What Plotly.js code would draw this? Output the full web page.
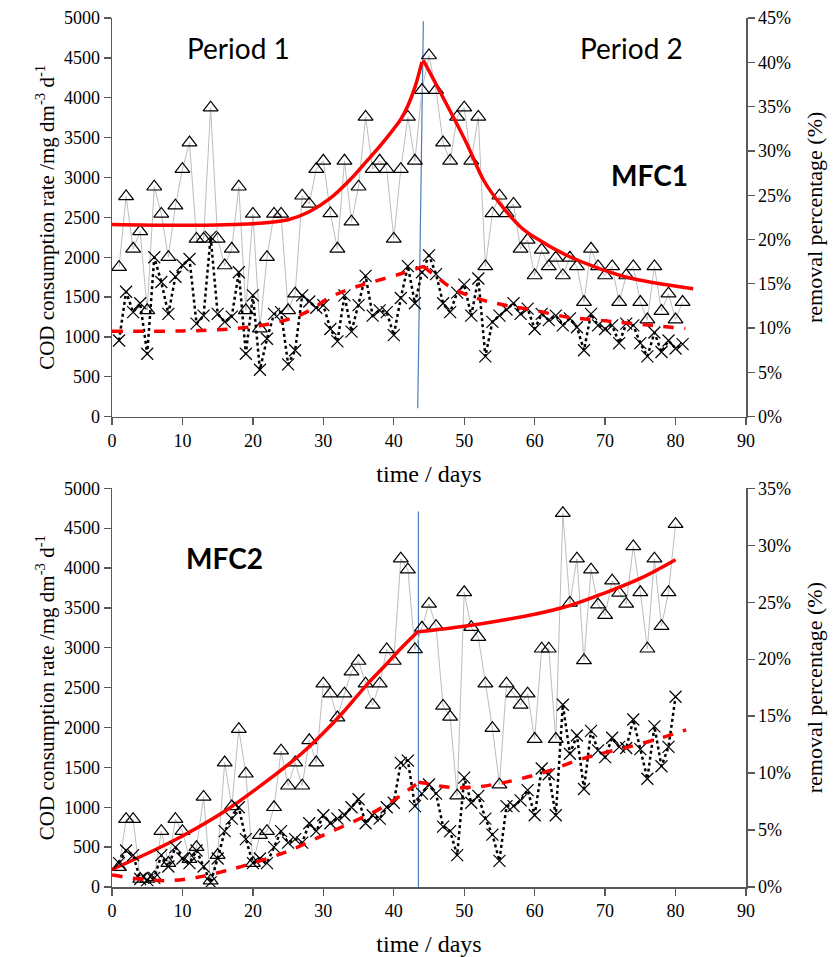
<!DOCTYPE html>
<html><head><meta charset="utf-8">
<script src="https://cdn.plot.ly/plotly-3.0.1.min.js"></script>
<style>html,body{margin:0;padding:0;background:#fff}</style>
</head><body><div id="chart" style="width:840px;height:957px"></div>
<script>
// ---------- MFC1 (top) ----------
const daysTop = [1,2,3,4,5,6,7,8,9,10,11,12,13,14,15,16,17,18,19,20,21,22,23,24,25,26,27,28,29,30,31,32,33,34,35,36,37,38,39,40,41,42,43,44,45,46,47,48,49,50,51,52,53,54,55,56,57,58,59,60,61,62,63,64,65,66,67,68,69,70,71,72,73,74,75,76,77,78,79,80,81];
const codTop = [1875,2763,2105,2325,1334,2884,2543,2000,2646,3105,3438,2230,2230,3875,2230,1896,2105,2884,1334,2543,1105,2000,2543,2543,1334,1543,2771,2668,3105,3209,2550,2105,3209,2446,2884,3759,3105,3209,3105,2230,3105,3759,3209,4096,4530,4096,3438,3209,3759,3875,3209,3759,1884,2550,2771,2550,2668,2105,2218,1771,2093,1884,1993,1771,1993,1884,1438,2105,1884,1771,1884,1438,1771,1884,1438,1218,1884,1325,1543,1218,1438];
const remTop = [8.6,14.1,11.8,12.8,7.1,18.0,15.2,11.6,15.8,17.1,17.8,10.5,11.4,20.3,11.6,10.7,11.3,16.3,7.1,13.7,5.3,8.8,11.6,11.8,5.9,7.5,13.7,13.0,12.3,12.6,9.9,8.5,13.7,9.6,12.6,15.9,11.4,12.0,11.8,9.2,13.4,17.0,12.8,16.3,18.2,16.1,12.8,11.8,14.0,14.9,11.4,15.6,6.8,10.7,11.4,12.1,12.8,11.6,12.2,9.9,11.6,10.9,11.4,10.3,11.1,10.1,7.5,11.6,10.3,9.9,10.3,8.3,10.5,10.3,8.3,6.8,9.5,7.3,8.6,7.7,8.2];
// trend lines (read-off knots)
const topSolid1X = [0,10,20,25,28,31,34,36,38,40,41,42,43,44];
const topSolid1Y = [2410,2400,2420,2470,2570,2740,2990,3190,3390,3610,3730,3900,4130,4450];
const topSolid2X = [44.2,46,48,50.4,52.8,55.1,58,60,64.6,69.3,74,82.5];
const topSolid2Y = [4470,4170,3834,3418,2959,2668,2380,2250,2021,1855,1730,1605];
const topDash1X = [0,10,15,20,25,28,31,34,37,41,44.2];
const topDash1Y = [9.64,9.68,9.81,10.17,10.98,11.97,13.5,14.49,15.21,16.14,16.96];
const topDash2X = [44.2,46,48,50,52.8,56,60,64.6,69.3,74,81.4];
const topDash2Y = [16.96,15.84,14.63,13.86,13.13,12.56,12.0,11.25,10.88,10.51,9.95];
const topDivX = [44.2,43.4];
const topDivY = [4958,105];

// ---------- MFC2 (bottom) ----------
const daysBot = [1,2,3,4,5,6,7,8,9,10,11,12,13,14,15,16,17,18,19,20,21,22,23,24,25,26,27,28,29,30,31,32,33,34,35,36,37,38,39,40,41,42,43,44,45,46,47,48,49,50,51,52,53,54,55,56,57,58,59,60,61,62,63,64,65,66,67,68,69,70,71,72,73,74,75,76,77,78,79,80];
const codBot = [250,850,850,100,100,120,700,300,850,700,350,500,1130,80,400,1560,1010,1980,1420,300,650,700,1000,1710,1270,1560,1270,1840,1560,2550,2425,2125,2425,2700,2834,2550,2284,2550,2980,2834,4118,3980,2980,3250,3550,3271,2271,2134,1146,3696,3259,3134,2550,1992,1284,2550,2425,2284,2425,1855,2988,2988,1855,4688,3563,4118,2842,3980,3542,3409,3842,3688,3550,4271,3696,2988,4118,3271,3696,4550];
const remBot = [2.1,3.2,2.8,0.7,0.6,0.8,2.8,1.8,3.5,2.5,2.1,3.2,1.8,0.4,2.5,4.9,6.0,7.0,4.2,2.1,2.5,2.1,3.5,4.9,3.9,4.2,3.9,5.6,4.9,6.3,5.6,6.0,6.3,7.0,7.7,5.6,6.3,6.0,7.0,7.4,10.9,11.1,7.1,8.2,9.0,8.2,5.3,4.9,2.8,9.6,7.4,8.0,6.0,4.6,2.3,7.1,7.1,7.6,8.5,6.3,10.4,9.9,6.3,16.0,11.7,13.3,8.6,13.7,12.0,11.4,13.1,12.3,12.2,14.7,12.1,9.5,14.1,10.6,12.3,16.7];
const botSolid1X = [0,5,10,16,22,27,30,33,36,39,41,43.4];
const botSolid1Y = [220,420,640,950,1330,1680,1930,2210,2520,2800,2990,3200];
const botSolid2X = [43.5,50,55,60,65,70,75,80];
const botSolid2Y = [3200,3270,3340,3420,3530,3690,3870,4105];
const botDash1X = [0,4,8,12,16,20,25,30,35,38,41,43.5];
const botDash1Y = [1.05,0.7,0.56,0.84,1.4,2.1,3.15,4.55,5.95,6.86,8.05,9.17];
const botDash2X = [43.5,44.5,48,52,55,58,62,66,70,74,78,81.5];
const botDash2Y = [9.2,9.1,8.75,8.8,9.1,9.5,10.2,11.1,11.8,12.4,13.1,13.8];
const botDivX = [43.5,43.5];
const botDivY = [4709,0];

const tickVals = [0,10,20,30,40,50,60,70,80,90];

// ---------- styles ----------
const triStyle = {mode:'lines+markers', line:{color:'#bdbdbd', width:1},
  marker:{symbol:'triangle-up-open', size:13, color:'#000', line:{width:1.2}}, cliponaxis:false};
const crossStyle = {mode:'lines+markers', line:{color:'#000', width:2.5, dash:'dot'},
  marker:{symbol:'x-thin-open', size:12, color:'#000', line:{width:1.2}}, cliponaxis:false};
const solid = {mode:'lines', line:{color:'#ff0000', width:3.5, shape:'spline', smoothing:1}};
const dashed = {mode:'lines', line:{color:'#ff0000', width:3.5, dash:'dash', shape:'spline', smoothing:1}};
const blue = {mode:'lines', line:{color:'#4a7ebb', width:1.2}};

function tr(base, x, y, xa, ya){ return Object.assign({}, base, {x:x, y:y, xaxis:xa, yaxis:ya, hoverinfo:'skip'}); }

const data = [
  tr(blue, topDivX, topDivY, 'x2','y3'),
  tr(triStyle, daysTop, codTop, 'x2','y3'),
  tr(crossStyle, daysTop, remTop, 'x2','y4'),
  tr(solid, topSolid1X, topSolid1Y, 'x2','y3'),
  tr(solid, topSolid2X, topSolid2Y, 'x2','y3'),
  tr(dashed, topDash1X, topDash1Y, 'x2','y4'),
  tr(dashed, topDash2X, topDash2Y, 'x2','y4'),
  tr(blue, botDivX, botDivY, 'x','y'),
  tr(triStyle, daysBot, codBot, 'x','y'),
  tr(crossStyle, daysBot, remBot, 'x','y2'),
  tr(solid, botSolid1X, botSolid1Y, 'x','y'),
  tr(solid, botSolid2X, botSolid2Y, 'x','y'),
  tr(dashed, botDash1X, botDash1Y, 'x','y2'),
  tr(dashed, botDash2X, botDash2Y, 'x','y2')
];

const serif = 'Liberation Serif, Times New Roman, serif';
const tickFont = {family:serif, size:18, color:'#000'};
const axBase = {showgrid:false, zeroline:false, showline:true, linecolor:'#595959', linewidth:1.5,
  ticks:'outside', ticklen:7, tickwidth:1.3, tickcolor:'#595959', tickfont:tickFont};

function xAx(domainAnchor){
  return Object.assign({}, axBase, {anchor:domainAnchor, domain:[0,1], range:[0,90], tickvals:tickVals,
    title:{text:'time / days', font:{family:serif, size:24, color:'#000'}, standoff:15}});
}
function yLeft(dom, anchor){
  return Object.assign({}, axBase, {domain:dom, anchor:anchor, range:[0,5000], dtick:500, tick0:0,
    title:{text:'COD consumption rate /mg dm<sup>-3</sup> d<sup>-1</sup>', font:{family:serif, size:21, color:'#000'}, standoff:3}});
}
function yRight(over, anchor, max){
  return Object.assign({}, axBase, {overlaying:over, anchor:anchor, side:'right', range:[0,max], dtick:5, tick0:0,
    ticksuffix:'%', title:{text:'removal percentage (%)', font:{family:serif, size:22, color:'#000'}, standoff:16}});
}

const annFont = {family:'Lato, Open Sans, sans-serif', size:28, color:'#000'};
const layout = {
  width:840, height:957, showlegend:false,
  paper_bgcolor:'#fff', plot_bgcolor:'#fff',
  margin:{l:112, r:94, t:18, b:70},
  xaxis: xAx('y'),
  yaxis: yLeft([0,0.4588], 'x'),
  yaxis2: yRight('y','x',35),
  xaxis2: xAx('y3'),
  yaxis3: yLeft([0.5412,1], 'x2'),
  yaxis4: yRight('y3','x2',45),
  annotations:[
    {xref:'x2', yref:'y3', x:18, y:4621, text:'Period 1', showarrow:false, font:annFont},
    {xref:'x2', yref:'y3', x:73.7, y:4621, text:'Period 2', showarrow:false, font:annFont},
    {xref:'x2', yref:'y3', x:76.3, y:3034, text:'<b>MFC1</b>', showarrow:false, font:annFont},
    {xref:'x', yref:'y', x:15.9, y:4121, text:'<b>MFC2</b>', showarrow:false, font:annFont}
  ]
};

Plotly.newPlot('chart', data, layout, {displayModeBar:false, staticPlot:true});
</script></body></html>
